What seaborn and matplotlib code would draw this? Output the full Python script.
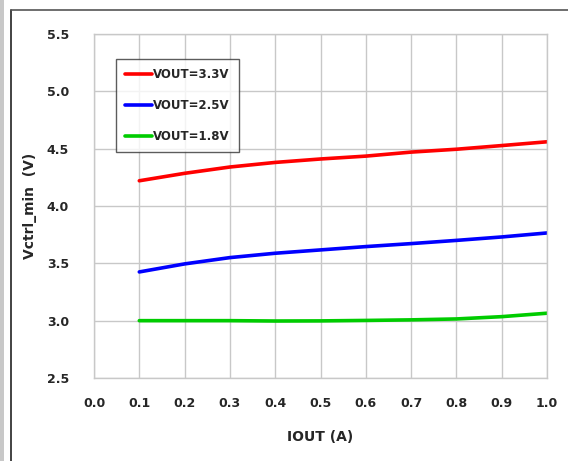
import matplotlib
matplotlib.use("Agg")
import matplotlib.pyplot as plt
import seaborn as sns
import pandas as pd
from matplotlib.patches import Rectangle

iout = [0.1, 0.2, 0.3, 0.4, 0.5, 0.6, 0.7, 0.8, 0.9, 1.0]
v33 = [4.22, 4.285, 4.34, 4.38, 4.41, 4.435, 4.47, 4.495, 4.527, 4.56]
v25 = [3.425, 3.495, 3.55, 3.588, 3.617, 3.646, 3.672, 3.70, 3.73, 3.765]
v18 = [3.0, 3.0, 3.0, 2.997, 2.998, 3.002, 3.007, 3.015, 3.035, 3.065]
labels = ["VOUT=3.3V", "VOUT=2.5V", "VOUT=1.8V"]
colors = ["#ff0000", "#0000ff", "#00cc00"]
xticks = [0.0, 0.1, 0.2, 0.3, 0.4, 0.5, 0.6, 0.7, 0.8, 0.9, 1.0]
yticks = [2.5, 3.0, 3.5, 4.0, 4.5, 5.0, 5.5]

df = pd.concat([
    pd.DataFrame({"IOUT": iout, "V": v, "series": lab})
    for v, lab in zip([v33, v25, v18], labels)
])

sns.set_style("white")
plt.rcParams['font.family'] = ['DejaVu Sans']

fig = plt.figure(figsize=(5.68, 4.61), dpi=100)
ax = fig.add_axes([94/568, 1-378/461, (547-94)/568, (378-34)/461])

sns.lineplot(data=df, x="IOUT", y="V", hue="series", palette=colors,
             hue_order=labels, linewidth=2.6, ax=ax, legend=True)

ax.set_xlim(0, 1.0)
ax.set_ylim(2.5, 5.5)
ax.set_xticks(xticks)
ax.set_xticklabels([f"{t:.1f}" for t in xticks])
ax.set_yticks(yticks)
ax.set_yticklabels([f"{t:.1f}" for t in yticks])
ax.grid(True, color="#c8c8c8", linewidth=1.0)
for s in ax.spines.values():
    s.set_color("#c8c8c8")
    s.set_linewidth(1.0)
ax.tick_params(axis="both", length=0, labelsize=9)
for lab in ax.get_xticklabels() + ax.get_yticklabels():
    lab.set_fontweight("bold")
ax.tick_params(axis="y", pad=18)
ax.tick_params(axis="x", pad=14)

ax.set_xlabel("IOUT (A)", fontsize=10, fontweight="bold")
ax.xaxis.set_label_coords((320 - 94) / 453, -(430 - 378) / 344)
ax.set_ylabel("Vctrl_min  (V)", fontsize=10, fontweight="bold")
ax.yaxis.set_label_coords(-(94 - 37) / 453, (378 - 206) / 344)

leg = ax.legend(loc="upper left", bbox_to_anchor=(22/453, 1-(59-34)/344),
                frameon=True, fancybox=False, fontsize=8.5, handlelength=2.3,
                handletextpad=0.12, labelspacing=1.55, borderpad=0.75,
                borderaxespad=0)
leg.get_frame().set_edgecolor("#333333")
leg.get_frame().set_linewidth(1.0)
for t in leg.get_texts():
    t.set_fontweight("bold")

fig.patches.append(Rectangle((0, 0), 4/568, 1, transform=fig.transFigure,
                             facecolor="#c8c8c8", edgecolor="none"))
fig.lines.append(plt.Line2D([10.5/568, 10.5/568], [0, 1-10.5/461],
                            transform=fig.transFigure, color="#222222", lw=1.2))
fig.lines.append(plt.Line2D([10.5/568, 1], [1-10.5/461, 1-10.5/461],
                            transform=fig.transFigure, color="#555555", lw=1.2))

fig.savefig("out.png", dpi=100)
